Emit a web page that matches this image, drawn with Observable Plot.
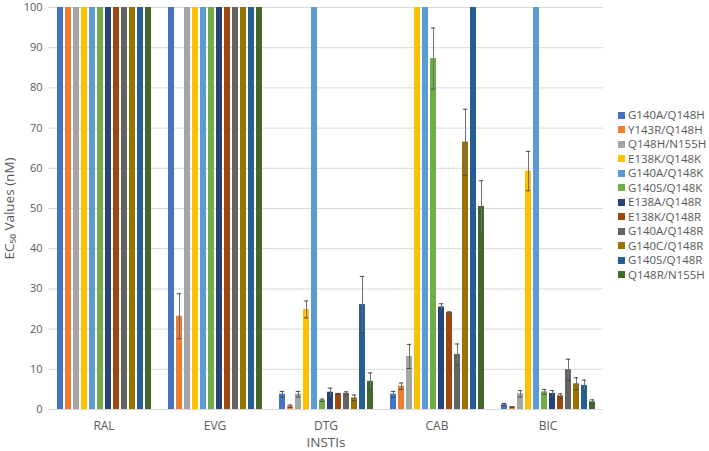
<!DOCTYPE html>
<html>
<head>
<meta charset="utf-8">
<script src="https://cdn.jsdelivr.net/npm/d3@7"></script>
<script src="https://cdn.jsdelivr.net/npm/@observablehq/plot@0.6"></script>
<style>
  html, body { margin: 0; padding: 0; background: #fff; }
  #wrap { position: relative; width: 709px; height: 451px; font-family: "Open Sans", sans-serif; color: #595959; }
  #legend { position: absolute; left: 618px; top: 108px; font-size: 11.5px; line-height: 14.5px; }
  #legend .item { display: flex; align-items: center; white-space: nowrap; }
  #legend .sw { width: 7px; height: 7px; margin-right: 3px; display: inline-block; }
</style>
</head>
<body>
<div id="wrap"><div id="legend"></div></div>
<script>
const drugs = ["RAL", "EVG", "DTG", "CAB", "BIC"];
const series = ["G140A/Q148H", "Y143R/Q148H", "Q148H/N155H", "E138K/Q148K", "G140A/Q148K", "G140S/Q148K",
                "E138A/Q148R", "E138K/Q148R", "G140A/Q148R", "G140C/Q148R", "G140S/Q148R", "Q148R/N155H"];
const colors = ["#4472C4", "#ED7D31", "#A5A5A5", "#FFC000", "#5B9BD5", "#70AD47",
                "#264478", "#9E480E", "#636363", "#997300", "#255E91", "#43682B"];

// EC50 values (nM), one array per INSTI, in series order (100 = axis cap)
const ral = [100, 100, 100, 100, 100, 100, 100, 100, 100, 100, 100, 100];
const evg = [100, 23.2, 100, 100, 100, 100, 100, 100, 100, 100, 100, 100];
const dtg = [3.8, 0.8, 3.8, 24.9, 100, 2.3, 4.3, 3.9, 4.0, 2.9, 26.1, 7.0];
const cab = [3.8, 5.8, 13.2, 100, 100, 87.3, 25.5, 24.1, 13.7, 66.5, 100, 50.5];
const bic = [1.2, 0.6, 3.9, 59.3, 100, 4.4, 4.0, 3.4, 9.9, 6.4, 6.0, 1.9];

// error (±) per INSTI
const ralErr = [null, null, null, null, null, null, null, null, null, null, null, null];
const evgErr = [null, 5.6, null, null, null, null, null, null, null, null, null, null];
const dtgErr = [0.7, 0.3, 0.7, 2.1, null, 0.3, 1.0, 0.1, 0.4, 0.7, 7.0, 2.1];
const cabErr = [0.7, 0.8, 3.0, null, null, 7.6, 0.8, 0.2, 2.6, 8.2, null, 6.4];
const bicErr = [0.3, 0.1, 0.8, 4.9, null, 0.6, 0.7, 0.5, 2.6, 1.5, 1.3, 0.5];

const yTicks = [0, 10, 20, 30, 40, 50, 60, 70, 80, 90, 100];

const valueSets = [ral, evg, dtg, cab, bic];
const errSets = [ralErr, evgErr, dtgErr, cabErr, bicErr];
const data = [];
drugs.forEach((d, i) => series.forEach((s, j) => {
  data.push({drug: d, series: s, value: valueSets[i][j], err: errSets[i][j]});
}));
const errData = data.filter(d => d.err != null);

const chart = Plot.plot({
  width: 709,
  height: 451,
  marginLeft: 47,
  marginRight: 105,
  marginTop: 7,
  marginBottom: 42,
  style: {fontFamily: "Open Sans, sans-serif", fontSize: "11px", color: "#595959", background: "white", overflow: "visible"},
  fx: {domain: drugs, padding: 0, label: null},
  x: {domain: series, axis: null, paddingInner: 0.29, paddingOuter: 0.94},
  y: {domain: [0, 100]},
  color: {domain: series, range: colors},
  marks: [
    Plot.gridY(yTicks, {stroke: "#d9d9d9", strokeOpacity: 1}),
    Plot.axisY(yTicks, {tickSize: 0, tickPadding: 6, label: "EC\u2085\u2080 Values (nM)", labelAnchor: "center", labelArrow: "none", labelOffset: 44}),
    Plot.axisFx({anchor: "bottom", tickSize: 0, tickPadding: 12, fontSize: 12, label: "INSTIs", labelAnchor: "center", labelArrow: "none", labelOffset: 37}),
    Plot.barY(data, {fx: "drug", x: "series", y: "value", fill: "series"}),
    Plot.ruleX(errData, {fx: "drug", x: "series", y1: d => d.value - d.err, y2: d => d.value + d.err, stroke: "#6e6e6e", strokeWidth: 1}),
    Plot.tickY(errData, {fx: "drug", x: "series", y: d => d.value + d.err, stroke: "#4a4a4a", strokeWidth: 1, insetLeft: 0.8, insetRight: 0.8}),
    Plot.tickY(errData, {fx: "drug", x: "series", y: d => d.value - d.err, stroke: "#4a4a4a", strokeWidth: 1, insetLeft: 0.8, insetRight: 0.8})
  ]
});
d3.select(chart).selectAll('g[aria-label="y-axis label"]').attr("font-size", 13.5);
d3.select(chart).selectAll('g[aria-label="fx-axis label"]').attr("font-size", 13.5);
document.getElementById("wrap").prepend(chart);

const legend = document.getElementById("legend");
series.forEach((s, i) => {
  const item = document.createElement("div");
  item.className = "item";
  const sw = document.createElement("span");
  sw.className = "sw";
  sw.style.background = colors[i];
  item.appendChild(sw);
  item.appendChild(document.createTextNode(s));
  legend.appendChild(item);
});
</script>
</body>
</html>
